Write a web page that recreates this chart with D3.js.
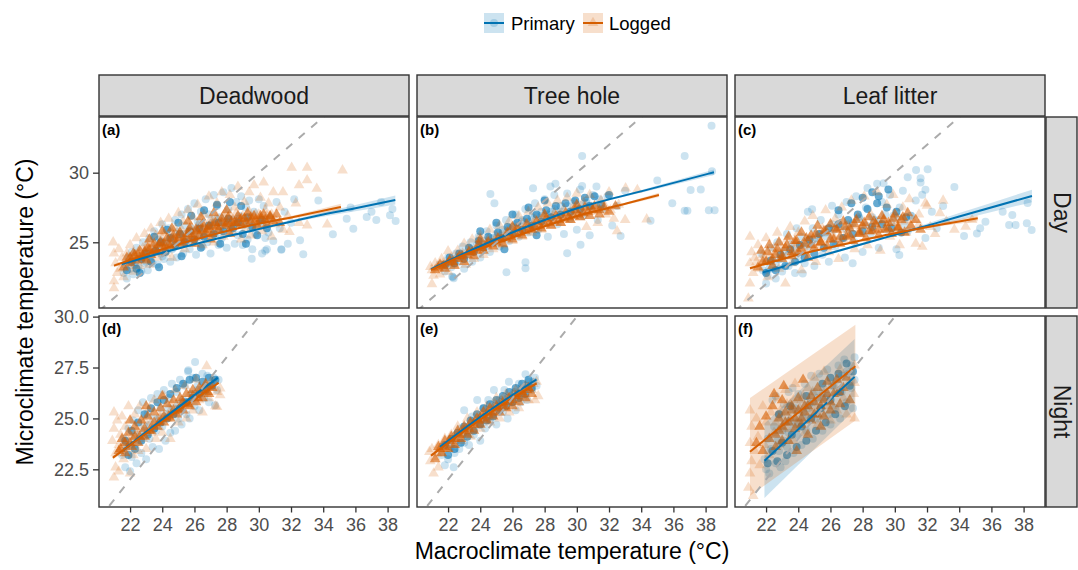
<!DOCTYPE html>
<html><head><meta charset="utf-8">
<script src="https://cdn.jsdelivr.net/npm/d3@7"></script>
<style>body{margin:0;background:#fff}svg text{font-family:"Liberation Sans",Arial,Helvetica,sans-serif}</style>
</head><body><svg id="chart" width="1078" height="570"></svg>
<script>
// ---------------- data ----------------
const habitats = ["Deadwood", "Tree hole", "Leaf litter"];
const periods = ["Day", "Night"];
const panelTags = ["(a)", "(b)", "(c)", "(d)", "(e)", "(f)"];
const seriesNames = ["Primary", "Logged"];
const xTicks = [22, 24, 26, 28, 30, 32, 34, 36, 38];
const yTicksDay = [25, 30];
const yTicksNight = [22.5, 25.0, 27.5, 30.0];
const xDomain = [20.07, 39.33];
const yDomainDay = [20.28, 34.0];
const yDomainNight = [20.65, 30.03];

// scatter points: flat lists of (macro, micro) temperature pairs.
// "...Core" lists hold points from the heavily over-plotted centre of each cloud.
const dayDeadPrimary = [21.6,22.8,21.7,23.4,21.8,22.4,21.9,23.9,22.0,23.1,22.1,24.3,22.2,22.7,22.3,23.6,22.4,24.6,22.5,23.2,
22.6,24.0,22.7,22.9,22.8,25.0,22.9,23.5,23.0,24.4,23.1,23.0,23.2,25.3,23.3,24.0,23.4,23.5,23.5,25.8,
23.6,24.7,23.7,23.4,23.8,25.2,23.9,24.2,24.0,26.3,24.1,23.8,24.2,25.0,24.3,24.4,24.4,26.0,24.5,23.6,
24.6,25.4,24.7,24.6,24.8,26.6,24.9,23.9,25.0,25.8,25.1,24.8,25.2,27.0,25.3,24.2,25.4,26.2,25.5,25.2,
25.6,27.4,25.7,24.5,25.8,26.0,25.9,25.0,26.0,27.8,26.1,24.1,26.2,26.5,26.3,25.4,26.4,27.2,26.5,24.7,
26.6,26.0,26.7,28.1,26.8,25.0,26.9,27.0,27.0,24.2,27.1,26.4,27.2,28.4,27.3,25.6,27.4,27.6,27.5,24.8,
27.6,26.8,27.7,25.3,27.8,28.6,27.9,26.2,28.0,24.6,28.1,27.4,28.2,25.8,28.3,28.9,28.4,26.6,28.5,24.9,
28.6,27.9,28.7,25.5,28.8,26.9,28.9,28.3,29.0,24.8,29.1,26.3,29.2,27.5,29.3,25.2,29.4,28.0,29.5,26.0,
29.6,24.5,29.7,27.2,29.8,25.6,30.0,28.1,30.1,26.5,30.2,24.2,30.3,27.6,30.4,25.3,30.5,24.5,
30.7,26.8,30.9,25.1,31.1,27.9,31.3,26.0,31.4,24.5,31.6,27.2,31.8,24.9,32.0,26.4,32.2,28.1,
32.56,25.14,32.76,24.14,33.7,28.0,34.6,25.57,35.46,26.7,35.87,25.98,35.7,27.5,36.7,26.82,37.0,27.2,37.3,26.6,37.6,27.9,38.15,26.94,38.5,26.53,38.3,27.4,29.56,23.82,30.4,24.4,31.4,24.47,
22.3,23.4,22.7,23.9,23.0,23.6,23.4,24.2,23.8,24.6,24.0,24.0,24.3,24.9,24.6,24.5,25.0,25.1,25.3,25.6,25.6,25.2,26.0,25.8,26.3,26.3,26.6,25.5,27.0,26.2,27.3,26.7,27.6,25.9,28.0,26.5,28.3,26.1,28.7,26.7,29.0,26.2,29.4,26.5,29.8,26.0,30.2,26.3,30.6,25.7];
const dayDeadPrimaryCore = [21.8,23.0,22.1,23.6,22.4,23.1,22.7,23.8,23.0,24.2,23.3,23.6,23.6,24.4,23.9,25.0,24.2,24.3,24.5,25.3,24.8,24.8,25.1,25.6,25.4,25.0,25.7,25.8,26.0,25.2,
26.3,26.0,26.6,25.4,26.9,26.2,27.2,25.6,27.5,26.4,27.8,25.8,28.1,26.7,28.4,26.0,28.7,26.4,29.0,25.6,29.3,26.8,29.6,26.1,29.9,25.5,30.2,26.6,30.5,26.0,
23.5,25.4,24.3,25.9,25.0,26.4,25.8,26.9,26.6,27.3,27.4,27.7,28.2,27.9,28.9,27.6,22.6,22.8,23.8,23.2,25.2,24.0,26.4,24.6,27.6,24.9,29.2,24.9];
const dayDeadLogged = [20.95,25.0,21.0,24.2,21.0,22.2,21.0,21.7,21.1,23.5,21.2,22.8,21.3,24.5,21.4,23.1,21.5,23.9,21.6,22.5,21.8,24.2,21.9,23.3,
22.0,24.8,22.1,23.7,22.2,22.9,22.4,25.3,22.5,24.1,22.6,23.3,22.8,24.6,22.9,25.6,23.0,23.8,
23.1,24.9,23.2,23.4,23.3,26.0,23.5,24.4,23.6,25.5,23.7,23.9,23.9,26.4,24.0,24.9,
24.1,25.7,24.2,24.2,24.4,26.7,24.5,25.2,24.6,23.9,24.8,26.0,24.9,24.7,25.0,27.1,
25.1,25.5,25.3,26.5,25.4,24.5,25.6,27.3,25.7,25.8,25.8,24.9,25.9,26.8,
26.1,25.3,26.2,27.7,26.4,26.2,26.5,24.8,26.6,27.0,26.8,25.7,26.9,28.3,
27.1,26.5,27.2,25.0,27.4,27.8,27.5,26.0,27.7,28.6,27.8,25.4,27.9,27.1,
28.1,26.3,28.2,28.4,28.4,25.7,28.5,27.5,28.7,29.0,28.8,26.7,28.9,25.2,
29.1,27.9,29.2,26.0,29.4,28.6,29.5,25.5,29.7,29.1,29.8,27.0,29.9,26.3,
30.1,28.2,30.2,25.8,30.3,29.3,30.5,26.9,30.6,27.8,30.8,25.4,30.9,28.6,
31.1,26.5,31.3,27.5,31.5,25.9,31.5,28.6,31.8,26.9,31.9,25.74,32.04,30.36,
32.3,27.8,32.5,29.1,32.5,26.4,33.0,30.36,33.0,29.46,33.0,26.22,33.6,28.85,34.25,26.29,35.2,30.17,
22.2,23.9,22.5,24.3,22.8,23.9,23.0,24.5,23.2,24.2,23.4,24.8,23.6,24.5,23.8,24.9,24.0,25.3,24.2,24.8,24.4,25.2,24.6,25.6,24.8,25.0,25.0,25.5,25.2,25.9,25.4,25.3,25.6,25.8,25.8,26.1,26.0,25.6,26.2,26.2,26.4,25.8,26.6,26.4,26.8,26.0,27.0,26.6,27.2,26.2,27.4,26.8,27.6,26.4,27.8,26.9,28.0,26.5,28.2,27.0,28.4,26.6,28.6,27.1,28.8,26.4,29.0,26.9,29.2,26.6,29.4,27.2,29.6,26.7,29.8,26.4,30.0,27.0,30.2,26.6,30.4,27.3,30.6,26.5,30.8,27.0,31.0,26.3];
const dayDeadLoggedCore = [21.6,23.2,21.8,23.9,22.0,23.5,22.2,24.2,22.4,23.7,22.6,24.4,22.8,24.0,23.0,23.7,23.1,24.6,23.3,24.1,23.5,24.9,23.7,24.3,23.9,25.0,24.1,24.5,24.3,25.3,24.5,24.7,24.7,25.5,24.9,25.0,
25.1,25.7,25.3,24.9,25.5,25.4,25.7,26.0,25.9,25.3,26.1,25.9,26.3,25.5,26.5,26.3,26.7,25.7,26.9,26.1,27.1,25.6,27.3,26.4,27.5,25.9,27.7,26.7,27.9,26.2,28.1,26.8,28.3,26.1,28.5,26.4,
28.7,26.9,28.9,26.3,29.1,26.7,29.3,27.1,29.5,26.5,29.7,26.9,29.9,26.2,30.1,26.7,30.3,27.0,30.5,26.3,30.7,26.8,30.9,26.5,31.1,27.0,31.3,26.4,
23.2,25.2,24.0,25.8,24.6,26.0,25.6,26.5,26.4,26.8,27.2,27.1,28.0,27.3,26.0,24.9,27.0,25.2,28.2,25.6,
22.0,23.9,22.3,24.1,22.6,23.9,22.9,24.3,23.2,24.5,23.5,24.4,23.8,24.8,24.1,24.9,24.4,24.8,24.7,25.2,25.0,25.3,25.3,25.2,25.6,25.6,25.9,25.5,26.2,25.8,26.5,25.9,26.8,25.9,
27.1,26.2,27.4,26.1,27.7,26.4,28.0,26.3,28.3,26.5,28.6,26.4,28.9,26.7,29.2,26.4,29.5,26.8,29.8,26.6,30.1,26.9,30.4,26.6,30.7,26.9];

const dayTreePrimary = [21.5,23.4,21.8,22.9,22.0,23.9,22.2,23.2,22.3,22.5,22.5,24.2,22.7,23.6,22.9,24.7,23.0,23.1,23.2,24.1,23.4,25.0,23.5,23.6,23.7,24.5,23.9,25.4,24.0,23.9,24.2,24.9,24.4,25.8,24.6,24.3,
24.63,28.47,24.88,27.8,24.8,25.3,25.0,26.2,25.2,24.7,25.4,25.7,25.6,26.6,25.63,22.85,25.8,25.1,26.0,26.1,26.2,27.0,26.4,25.4,26.6,26.5,26.81,23.57,26.81,23.14,26.8,27.4,27.0,25.7,27.2,26.8,
27.28,28.88,27.4,27.8,27.6,25.9,27.8,26.9,28.0,28.1,28.2,25.4,28.36,29.0,28.4,27.2,28.6,28.4,28.67,29.2,28.8,26.3,29.0,27.6,29.2,25.6,29.4,24.22,29.4,28.5,29.6,26.7,29.8,27.9,30.0,25.9,
30.23,24.82,30.2,28.8,30.33,31.2,30.33,29.05,30.4,26.9,30.6,27.8,30.8,25.5,31.0,28.4,31.22,29.0,31.3,26.6,31.6,27.4,31.9,28.3,32.2,26.2,32.72,25.45,32.5,27.6,33.0,28.7,
34.58,26.55,35.0,29.43,35.93,27.8,36.7,31.2,36.7,27.27,36.87,27.27,37.07,28.76,37.7,28.8,38.2,27.3,38.56,27.3,38.37,33.38,38.4,30.1,22.35,22.42,22.25,22.54,
22.0,23.5,22.6,23.9,23.0,24.2,23.4,24.5,23.8,24.8,24.2,25.1,24.6,25.3,25.0,25.6,25.4,25.9,25.8,26.0,26.2,26.3,26.6,26.6,27.0,26.5,27.4,26.9,27.8,27.2,28.2,27.0,28.6,27.4,29.0,27.2,29.4,27.6,29.8,27.3,30.2,27.7,30.6,28.0,31.0,27.6,31.4,28.1];
const dayTreePrimaryCore = [21.8,23.4,22.1,23.9,22.4,23.5,22.7,24.2,23.0,23.8,23.3,24.6,23.6,24.3,23.9,25.1,24.2,24.6,24.5,25.4,24.8,25.0,25.1,25.7,25.4,25.3,25.7,26.1,26.0,25.6,
26.3,26.4,26.6,25.9,26.9,26.7,27.2,26.2,27.5,27.0,27.8,26.5,28.1,27.3,28.4,26.8,28.7,27.6,29.0,27.0,29.3,27.8,29.6,27.2,29.9,28.0,30.2,27.4,30.5,28.2,30.8,27.6,31.1,28.3,31.5,27.7,32.0,28.4,
24.0,25.8,25.0,26.4,26.0,27.0,27.0,27.5,28.0,28.0,25.5,24.5,27.5,25.5];
const dayTreeLogged = [20.9,23.24,21.0,22.0,21.0,23.0,21.1,22.6,21.2,23.5,21.4,23.1,21.5,22.7,21.6,23.8,21.8,23.3,22.0,24.36,22.0,22.9,22.2,23.9,22.4,23.4,22.6,24.4,22.8,23.8,23.0,24.9,23.1,23.4,23.3,24.3,
23.5,25.2,23.6,23.8,23.8,24.7,24.0,25.5,24.2,24.1,24.4,25.0,24.6,25.9,24.8,24.5,25.0,25.4,25.2,26.2,25.4,24.8,25.6,25.7,25.8,26.5,26.0,25.1,26.2,26.0,26.4,26.9,26.6,25.4,26.8,26.3,
27.0,27.2,27.2,25.7,27.4,26.6,27.6,27.5,27.8,25.9,28.0,26.9,28.2,27.8,28.4,26.2,28.6,27.1,28.8,28.0,29.0,26.4,29.2,27.4,29.4,28.2,29.6,26.6,29.8,27.6,30.0,28.5,30.2,26.8,30.4,27.9,
30.6,26.1,30.8,28.4,31.0,27.2,31.3,26.4,31.5,28.0,31.8,27.0,32.0,28.6,32.3,26.7,32.6,27.7,33.0,26.6,33.03,28.88,33.76,28.76,34.34,26.65,32.5,25.8,
21.3,23.2,21.7,23.5,22.1,23.6,22.5,23.9,22.9,24.2,23.3,24.6,23.7,24.5,24.1,24.9,24.5,25.2,24.9,25.1,25.3,25.5,25.7,25.6,26.1,25.7,26.5,26.1,26.9,26.0,27.3,26.3,27.7,26.6,28.1,26.5,28.5,26.8,28.9,27.0,29.3,26.9,29.7,27.2,30.1,27.3,30.5,27.1,30.9,27.5,31.3,27.4,31.7,27.7,32.1,27.3];
const dayTreeLoggedCore = [21.2,23.0,21.5,23.4,21.8,23.1,22.1,23.7,22.4,23.3,22.7,24.0,23.0,23.6,23.3,24.3,23.6,24.0,23.9,24.8,24.2,24.4,24.5,25.0,24.8,24.7,25.1,25.3,25.4,24.9,25.7,25.7,26.0,25.2,
26.3,26.0,26.6,25.5,26.9,26.3,27.2,25.9,27.5,26.5,27.8,26.0,28.1,26.7,28.4,26.2,28.7,26.9,29.0,26.4,29.3,27.1,29.6,26.6,29.9,27.3,30.2,26.8,30.5,27.5,30.8,26.9,31.1,27.6,31.4,27.0,31.7,27.5,32.0,27.2,32.4,27.6,
24.0,25.2,26.0,26.1,28.0,27.0,30.0,27.7,
21.4,23.2,21.7,23.3,22.0,23.5,22.3,23.6,22.6,23.8,22.9,24.0,23.2,24.1,23.5,24.3,23.8,24.4,24.1,24.6,24.4,24.8,24.7,24.9,25.0,25.0,25.3,25.2,25.6,25.3,25.9,25.4,26.2,25.6,
26.5,25.7,26.8,25.8,27.1,26.0,27.4,26.1,27.7,26.2,28.0,26.3,28.3,26.4,28.6,26.5,28.9,26.6,29.2,26.7,29.5,26.8,29.8,26.9,30.1,27.0,30.4,27.1,30.7,27.2,31.0,27.3,31.4,27.3];

const dayLeafPrimary = [21.7,24.2,21.8,23.0,22.0,22.04,22.0,23.6,22.1,22.6,22.3,24.6,22.4,23.2,22.6,22.4,22.7,25.0,22.8,23.8,23.0,22.9,23.1,24.4,23.3,25.6,23.4,23.3,23.6,24.9,23.8,22.8,23.9,26.0,24.0,24.0,
24.2,25.4,24.28,22.76,24.4,23.5,24.6,27.2,24.6,24.7,24.86,27.37,24.9,26.0,25.0,23.3,25.2,25.3,25.4,26.6,25.5,24.1,25.7,25.7,25.9,23.6,26.1,27.63,26.1,26.3,26.3,24.7,26.5,27.0,26.7,25.3,
26.9,23.9,27.0,27.9,27.2,26.1,27.38,23.49,27.5,25.0,27.6,28.3,27.8,26.8,28.0,24.3,28.2,27.5,28.3,28.9,28.5,25.6,28.7,26.6,28.9,29.2,29.0,24.6,29.2,27.9,29.3,29.25,29.5,25.9,29.7,28.4,
29.9,26.9,30.1,24.5,30.28,24.09,30.3,27.5,30.5,28.7,30.8,29.67,30.8,25.8,31.0,26.9,31.32,30.19,31.3,28.0,31.6,29.6,31.6,29.3,31.7,28.42,31.9,28.78,31.9,25.3,32.04,30.24,32.3,27.2,32.6,26.0,
33.0,27.6,33.7,28.97,34.3,25.45,35.1,25.64,35.3,26.0,35.63,26.48,36.7,27.2,37.1,26.24,37.3,26.96,37.5,26.24,38.2,26.36,38.25,27.82,38.5,25.88,
22.2,23.1,22.6,23.5,23.0,23.8,23.4,24.1,23.8,24.4,24.2,24.8,24.6,24.9,25.0,25.2,25.4,25.6,25.8,25.4,26.2,25.9,26.6,26.1,27.0,25.9,27.4,26.4,27.8,26.7,28.2,26.2,28.6,26.8,29.0,26.6,29.4,27.0,29.8,26.4,30.2,26.8,30.6,26.3,31.0,26.9];
const dayLeafPrimaryCore = [22.0,22.8,22.3,23.7,22.6,23.0,22.9,24.1,23.2,23.3,23.5,24.5,23.8,23.6,24.1,24.8,24.4,23.9,24.7,25.2,25.0,24.2,25.3,25.6,25.6,24.6,25.9,26.0,26.2,24.9,
26.5,26.3,26.8,25.3,27.1,26.6,27.4,25.6,27.7,27.0,28.0,25.8,28.3,27.4,28.6,26.1,28.9,27.8,29.2,26.3,29.5,27.5,29.8,26.0,30.1,27.2,30.4,25.7,30.7,26.8,
28.0,28.2,28.6,28.6,29.0,28.3,29.6,28.8,27.3,27.8,26.5,27.3];
const dayLeafLogged = [20.9,20.97,21.0,25.4,21.0,22.04,21.0,23.5,21.1,24.3,21.2,22.8,21.3,23.9,21.5,24.8,21.6,23.1,21.8,24.1,22.0,25.3,22.1,22.5,22.3,23.6,22.5,24.6,22.7,25.7,22.8,23.1,23.0,24.1,23.2,22.04,
23.3,25.2,23.5,26.1,23.6,23.5,23.8,24.6,24.0,25.7,24.2,23.0,24.4,26.5,24.5,24.3,24.7,25.3,24.9,26.9,25.1,23.6,25.3,24.8,25.5,26.0,25.7,27.3,25.9,24.3,26.1,25.5,26.3,26.7,26.5,23.8,
26.7,27.5,26.9,25.1,27.1,26.2,27.3,28.0,27.5,24.5,27.7,26.8,27.9,25.6,28.1,28.3,28.3,24.8,28.5,27.0,28.7,25.9,28.9,28.6,29.1,24.4,29.3,26.6,29.5,27.7,29.7,25.4,29.9,28.4,30.1,26.4,
30.3,24.8,30.5,27.5,30.7,25.7,30.9,28.1,31.1,26.6,31.3,24.9,31.5,27.0,31.7,24.69,31.9,27.8,32.0,27.64,32.2,26.1,32.5,25.6,32.8,27.1,33.2,26.5,33.7,25.9,34.4,26.12,34.8,26.6,33.0,28.0,
21.4,23.6,21.8,23.8,22.2,24.0,22.6,24.3,23.0,24.6,23.4,24.3,23.8,24.9,24.2,24.6,24.6,25.1,25.0,25.5,25.4,25.2,25.8,25.7,26.2,25.4,26.6,25.9,27.0,25.6,27.4,26.2,27.8,25.9,28.2,26.3,28.6,26.0,29.0,26.5,29.4,26.1,29.8,26.4,30.2,26.0,30.6,26.5,31.0,26.1,31.5,26.3];
const dayLeafLoggedCore = [21.5,23.2,21.7,24.4,22.0,23.6,22.2,24.8,22.4,23.3,22.6,24.1,22.8,25.0,23.0,23.8,23.2,24.6,23.4,25.4,23.6,24.0,23.8,25.1,24.0,24.3,24.2,25.7,24.4,24.9,24.6,23.9,24.8,25.5,
25.0,24.6,25.2,26.2,25.4,25.0,25.6,25.8,25.8,24.7,26.0,26.3,26.2,25.2,26.4,25.9,26.6,24.9,26.8,26.5,27.0,25.4,27.2,26.0,27.4,25.1,27.6,26.6,27.8,25.6,28.0,26.2,28.2,25.3,28.4,26.8,
28.6,25.8,28.8,26.3,29.0,25.5,29.2,26.9,29.4,25.9,29.6,26.4,29.8,25.6,30.0,27.0,30.2,26.0,30.4,26.6,30.6,25.7,30.8,27.1,31.0,26.2,31.3,26.6,31.6,25.9,
21.8,23.6,22.1,24.3,22.4,23.8,22.7,24.5,23.0,24.0,23.3,24.8,23.6,24.3,23.9,25.1,24.2,24.5,24.5,25.3,24.8,24.8,25.1,25.6,25.4,25.0,25.7,25.8,26.0,25.2,
26.3,26.0,26.6,25.4,26.9,26.1,27.2,25.5,27.5,26.3,27.8,25.7,28.1,26.4,28.4,25.8,28.7,26.5,29.0,25.9,29.3,26.6,29.6,26.0,29.9,26.7,30.2,26.1,30.5,26.8];

const nightDeadPrimary = [21.5,23.2,21.6,24.0,21.7,22.6,21.8,23.6,21.9,24.5,22.0,22.4,22.1,23.1,22.2,24.9,22.3,23.7,22.4,22.8,22.5,25.4,22.6,24.2,22.7,23.3,22.8,25.8,22.9,24.6,23.0,23.0,
23.1,25.2,23.2,24.0,23.3,26.0,23.4,23.6,23.5,25.0,23.6,24.4,23.7,26.2,23.8,23.5,23.9,25.5,24.0,24.6,24.1,26.4,24.2,23.9,24.3,25.2,24.4,26.0,24.5,24.3,24.6,26.7,24.7,25.5,24.8,24.4,
24.9,26.3,25.0,25.0,25.1,26.9,25.2,24.7,25.3,25.8,25.4,26.6,25.5,25.2,25.6,27.3,25.62,27.37,25.7,25.0,25.8,26.2,25.9,27.0,26.0,25.6,26.04,27.77,26.2,26.6,26.3,25.4,26.5,27.2,26.6,26.0,
26.8,27.1,26.9,25.8,27.0,26.6,27.2,27.0,27.28,25.65,27.4,26.4,27.5,26.9,
22.0,23.7,22.3,24.1,22.6,23.9,22.9,24.4,23.2,24.7,23.5,24.5,23.8,25.0,24.1,25.1,24.4,25.5,24.7,25.3,25.0,25.7,25.3,25.9,25.6,25.8,25.9,26.2,26.2,26.4,26.5,26.3,26.8,26.6];
const nightDeadPrimaryCore = [21.7,23.9,21.9,23.2,22.1,24.4,22.3,23.5,22.5,24.8,22.7,23.9,22.9,25.2,23.1,24.2,23.3,25.5,23.5,24.5,23.7,25.8,23.9,24.8,24.1,25.9,24.3,25.0,24.5,26.2,
24.7,25.2,24.9,26.5,25.1,25.5,25.3,26.7,25.5,25.8,25.7,26.9,25.9,26.0,26.1,27.0,26.3,26.2,26.5,26.8,26.7,26.4,26.9,27.0,27.1,26.6,27.3,26.9];
const nightDeadLogged = [20.9,23.9,21.0,25.3,21.0,22.1,21.0,24.5,21.1,22.6,21.1,23.3,21.2,24.9,21.3,23.7,21.3,22.4,21.4,24.2,21.5,25.1,21.6,23.0,21.7,24.6,21.8,23.5,21.9,25.6,22.0,22.3,
22.1,24.1,22.2,23.2,22.3,25.2,22.4,24.4,22.5,23.4,22.6,25.6,22.8,24.0,22.9,24.9,23.0,23.5,23.2,25.5,23.3,24.3,23.5,25.9,23.6,24.0,23.8,25.1,24.0,24.3,24.1,26.1,24.3,25.0,24.5,24.0,
24.6,25.7,24.8,26.4,25.0,24.8,25.2,25.9,25.4,26.6,25.5,25.0,25.7,26.2,25.9,25.4,26.1,26.9,26.3,25.9,26.5,25.3,26.7,26.6,26.76,27.57,26.9,26.0,27.1,26.9,27.3,25.6,27.4,26.3,27.6,26.14,27.6,26.47,27.4,25.57,
21.5,23.6,21.8,24.0,22.1,23.8,22.4,24.2,22.7,24.5,23.0,24.3,23.3,24.8,23.6,24.6,23.9,25.1,24.2,25.0,24.5,25.4,24.8,25.3,25.1,25.7,25.4,25.6,25.7,25.9,26.0,26.0,26.3,26.3,26.6,26.2,26.9,26.5];
const nightDeadLoggedCore = [21.3,23.4,21.5,24.0,21.7,23.3,21.9,24.3,22.1,23.6,22.3,24.6,22.5,23.8,22.7,24.9,22.9,24.1,23.1,25.1,23.3,24.4,23.5,25.3,23.7,24.6,23.9,25.5,24.1,24.8,24.3,25.7,
24.5,25.0,24.7,25.9,24.9,25.2,25.1,26.0,25.3,25.4,25.5,26.2,25.7,25.6,25.9,26.4,26.1,25.8,26.3,26.5,26.5,26.0,26.7,26.7,26.9,26.2,27.1,26.5,22.0,24.9,23.0,25.6,24.0,26.1,
21.4,23.5,21.7,23.8,22.0,23.8,22.3,24.1,22.6,24.1,22.9,24.5,23.2,24.4,23.5,24.8,23.8,24.8,24.1,25.1,24.4,25.1,24.7,25.4,25.0,25.4,25.3,25.8,25.6,25.7,25.9,26.1,26.2,26.0,26.5,26.4,26.8,26.3];

const nightTreePrimary = [21.6,23.2,21.8,22.7,22.0,23.0,22.2,23.6,22.35,22.6,22.4,23.3,22.5,24.2,22.7,23.5,22.8,24.5,23.0,23.8,23.0,25.4,23.2,24.4,23.3,23.7,23.5,25.1,23.6,24.2,23.81,25.9,23.9,24.7,24.0,23.9,
24.2,25.5,24.3,24.5,24.5,25.9,24.6,24.9,24.85,26.4,24.8,25.2,25.0,24.7,25.2,25.9,25.4,25.3,25.5,26.4,25.7,25.0,25.78,26.8,25.9,25.8,26.1,26.3,26.2,25.4,26.4,26.7,26.5,25.8,26.7,26.2,
26.81,27.17,26.9,25.9,27.0,26.8,27.2,26.4,27.4,27.0,27.5,26.6,
22.1,23.6,22.5,23.9,22.9,24.2,23.3,24.5,23.7,24.8,24.1,25.0,24.5,25.3,24.9,25.6,25.3,25.8,25.7,26.0,26.1,26.2,26.5,26.4,26.9,26.6,27.3,26.8];
const nightTreePrimaryCore = [21.8,23.7,22.0,23.2,22.2,24.0,22.4,23.5,22.6,24.3,22.8,23.8,23.0,24.6,23.2,24.1,23.4,24.9,23.6,24.4,23.8,25.2,24.0,24.7,24.2,25.5,24.4,24.9,
24.6,25.7,24.8,25.1,25.0,25.9,25.2,25.4,25.4,26.1,25.6,25.6,25.8,26.3,26.0,25.8,26.2,26.5,26.4,26.0,26.6,26.7,26.8,26.2,27.0,26.9,27.2,26.5];
const nightTreeLogged = [20.84,23.36,20.9,22.9,21.0,23.5,21.1,22.3,21.2,23.1,21.4,22.6,21.4,23.7,21.6,23.3,21.8,24.0,22.0,23.5,22.2,24.2,22.4,23.7,22.6,24.6,22.8,23.9,23.0,24.3,23.2,25.0,23.4,24.1,23.6,24.8,
23.8,25.3,24.0,24.5,24.2,25.1,24.4,25.6,24.6,24.8,24.8,25.5,25.0,26.0,25.2,25.0,25.4,25.7,25.6,26.2,25.8,25.3,26.0,25.9,26.2,26.4,26.4,25.5,26.6,26.1,26.8,26.6,27.0,25.9,27.2,26.4,27.4,25.9,27.6,26.1,27.5,26.8,
21.3,23.3,21.7,23.5,22.1,23.8,22.5,24.0,22.9,24.3,23.3,24.6,23.7,24.9,24.1,25.2,24.5,25.3,24.9,25.7,25.3,25.9,25.7,26.0,26.1,26.2,26.5,26.4,26.9,26.5,27.3,26.7];
const nightTreeLoggedCore = [21.2,23.0,21.4,23.6,21.6,23.3,21.8,23.9,22.0,23.5,22.2,24.1,22.4,23.7,22.6,24.4,22.8,24.0,23.0,24.6,23.2,24.2,23.4,24.8,23.6,24.4,23.8,25.0,24.0,24.7,24.2,25.3,
24.4,24.9,24.6,25.5,24.8,25.1,25.0,25.6,25.2,25.3,25.4,25.8,25.6,25.5,25.8,26.0,26.0,25.6,26.2,26.1,26.4,25.8,26.6,26.3,26.8,26.0,27.0,26.5,27.2,26.2,
21.5,23.5,21.8,23.6,22.1,23.9,22.4,24.0,22.7,24.2,23.0,24.4,23.3,24.5,23.6,24.7,23.9,24.9,24.2,25.0,24.5,25.2,24.8,25.3,25.1,25.5,25.4,25.6,25.7,25.8,26.0,25.9,26.3,26.1,26.6,26.2,26.9,26.4];

const nightLeafPrimary = [21.9,23.0,22.0,22.5,22.1,24.0,22.2,22.3,22.3,23.5,22.4,25.9,22.5,24.6,22.6,22.8,22.6,26.1,22.7,23.9,22.8,25.2,22.9,22.6,23.0,24.4,23.1,25.7,23.2,22.9,23.3,23.6,23.4,26.3,23.5,24.9,
23.65,26.5,23.7,23.3,23.8,25.5,23.9,24.2,24.0,26.2,24.2,23.7,24.3,25.0,24.4,26.7,24.5,24.4,24.7,25.7,24.8,27.1,24.9,24.0,25.0,26.3,25.2,25.0,25.3,27.2,25.5,24.4,25.6,26.0,25.8,27.4,
25.9,25.2,26.0,24.7,26.2,26.6,26.3,25.5,26.5,27.6,26.6,25.0,26.7,26.3,26.86,27.89,27.0,25.8,27.1,27.2,27.3,26.5,27.4,25.5,27.5,28.0,27.5,26.9,
22.8,23.4,23.1,23.9,23.4,24.3,23.7,24.6,24.0,24.8,24.3,25.3,24.6,25.5,24.9,25.8,25.2,26.0,25.5,26.3,25.8,26.1,26.1,26.6,26.4,26.9,26.7,27.1,27.0,27.3,27.3,27.6];
const nightLeafPrimaryCore = [22.1,22.8,22.4,23.4,22.7,22.9,23.0,23.8,23.3,23.2,23.6,24.2,23.9,23.6,24.2,24.6,24.5,23.9,24.8,25.0,25.1,24.4,25.4,25.5,25.7,24.8,26.0,25.9,26.3,25.2,
26.6,26.3,26.9,25.6,27.2,26.6,27.4,27.3,26.5,27.2,25.5,26.7,24.5,26.1,23.5,25.6,22.8,25.2,26.0,27.0,27.0,27.7];
const nightLeafLogged = [20.9,21.6,21.0,25.4,21.0,22.3,21.0,23.8,21.1,24.6,21.1,22.9,21.2,21.2,21.3,23.4,21.4,25.0,21.5,24.1,21.6,22.7,21.8,25.6,21.9,23.7,22.0,24.8,22.2,23.2,22.3,25.3,22.5,24.3,22.7,26.0,
22.8,23.7,23.0,25.1,23.2,26.4,23.3,24.5,23.5,25.7,23.7,23.9,23.8,26.7,24.0,24.9,24.2,25.9,24.4,24.3,24.6,26.5,24.8,25.3,25.0,27.0,25.2,24.7,25.4,26.0,25.6,27.3,25.8,25.6,26.0,24.9,
26.2,26.6,26.4,25.4,26.6,27.4,26.8,26.0,27.0,25.2,27.2,26.8,27.45,26.2,27.5,26.75,27.5,25.0,27.5,27.6,
22.6,24.8,22.9,25.4,23.1,24.5,23.3,25.7,23.5,25.0,23.7,25.9,23.9,24.7,24.1,25.5,24.3,26.1,24.5,25.0,24.7,25.8,24.9,26.3,25.1,25.5,25.3,26.0,25.5,25.2,25.7,26.4,25.9,25.9,26.1,25.6,26.3,26.2];
const nightLeafLoggedCore = [21.4,23.8,21.6,24.6,21.8,23.4,22.0,25.1,22.2,24.0,22.4,25.6,22.6,23.6,22.8,24.4,23.0,25.9,23.2,24.8,23.4,23.9,23.6,25.4,23.8,24.5,24.0,26.0,24.2,25.0,24.4,25.6,
24.6,24.2,24.8,26.1,25.0,25.2,25.2,26.5,25.4,24.6,25.6,25.9,25.8,26.8,26.0,25.4,26.2,26.2,26.4,26.9,26.6,25.7,26.8,26.5,27.0,27.0,27.2,25.9,23.1,26.6,24.3,26.9,22.5,26.2,23.9,23.4,
22.8,25.0,23.0,24.6,23.2,25.3,23.4,24.8,23.6,25.6,23.8,25.0,24.0,25.4,24.2,24.7,24.4,25.3,24.6,25.6,24.8,24.9,25.0,25.8,25.2,25.2,25.4,25.6,25.6,25.1,25.8,26.2,26.0,25.8,22.6,24.2,23.0,23.9,26.5,26.3];

// fitted relationships: rows of [macro, fitted micro, lower CI, upper CI]
const fitDayDeadPrimary = [[21.48,23.44,23.30,23.58],[24,24.25,24.17,24.33],[27,25.15,25.09,25.21],[29.45,25.8,25.73,25.87],[33,26.75,26.63,26.87],[36,27.45,27.23,27.67],[38.48,28.04,27.72,28.36]];
const fitDayDeadLogged = [[21.0,23.32,23.20,23.44],[24,24.5,24.44,24.56],[27,25.5,25.45,25.55],[29.45,26.2,26.14,26.26],[32.15,26.82,26.72,26.92],[35.1,27.54,27.32,27.76]];
const fitDayTreePrimary = [[20.94,23.06,22.94,23.18],[23,24.2,24.14,24.26],[25.87,25.65,25.6,25.7],[28,26.6,26.55,26.65],[30.02,27.44,27.38,27.5],[34.17,28.71,28.61,28.81],[38.52,30.03,29.83,30.23]];
const fitDayTreeLogged = [[20.94,23.01,22.93,23.09],[23,24.1,24.06,24.14],[25.87,25.29,25.25,25.33],[28,26.15,26.11,26.19],[30.02,26.89,26.84,26.94],[33.13,27.8,27.72,27.88],[35.1,28.4,28.25,28.55]];
const fitDayLeafPrimary = [[21.8,22.84,22.64,23.04],[25,23.89,23.79,23.99],[28,24.88,24.8,24.96],[31,25.86,25.74,25.98],[34,26.85,26.6,27.1],[38.52,28.33,27.88,28.78]];
const fitDayLeafLogged = [[21.0,23.13,23.01,23.25],[24,24.1,24.04,24.16],[27,24.9,24.85,24.95],[30,25.65,25.58,25.72],[33,26.3,26.18,26.42],[35.15,26.72,26.52,26.92]];
const fitNightDeadPrimary = [[21.58,23.45,23.33,23.57],[24.5,25.25,25.2,25.3],[27.45,27.0,26.9,27.1]];
const fitNightDeadLogged = [[20.93,23.07,22.97,23.17],[24.2,24.95,24.91,24.99],[27.5,26.75,26.67,26.83]];
const fitNightTreePrimary = [[21.5,23.6,23.5,23.7],[24.5,25.35,25.31,25.39],[27.49,26.91,26.83,26.99]];
const fitNightTreeLogged = [[20.94,23.17,23.09,23.25],[24.2,25.05,25.02,25.08],[27.5,26.72,26.65,26.79]];
const fitNightLeafPrimary = [[21.9,22.92,21.09,24.75],[27.5,27.04,25.42,28.9]];
const fitNightLeafLogged = [[21.0,23.36,21.2,26.0],[27.55,27.56,24.9,29.6]];

// ---------------- drawing ----------------
const BLUE = "#0072B2", ORANGE = "#D55E00";
const PT_ALPHA = 0.2, CORE_ALPHA = 0.6;
const svg = d3.select("#chart");
const colLeft = [99, 417, 735], panelW = 310;
const rowTop = [117, 316], panelH = 191;
const stripTop = 75, stripH = 41;
const rightStripX = 1046, rightStripW = 31;
const FRAME = "#333333";

const pairs = a => d3.range(0, a.length, 2).map(i => [a[i], a[i + 1]]);
const x = d3.scaleLinear().domain(xDomain).range([0, panelW]);
const yScales = [d3.scaleLinear().domain(yDomainDay).range([panelH, 0]),
                 d3.scaleLinear().domain(yDomainNight).range([panelH, 0])];

const panels = [
  {r:0,c:0,prim:dayDeadPrimary,primCore:dayDeadPrimaryCore,log:dayDeadLogged,logCore:dayDeadLoggedCore,fp:fitDayDeadPrimary,fl:fitDayDeadLogged},
  {r:0,c:1,prim:dayTreePrimary,primCore:dayTreePrimaryCore,log:dayTreeLogged,logCore:dayTreeLoggedCore,fp:fitDayTreePrimary,fl:fitDayTreeLogged},
  {r:0,c:2,prim:dayLeafPrimary,primCore:dayLeafPrimaryCore,log:dayLeafLogged,logCore:dayLeafLoggedCore,fp:fitDayLeafPrimary,fl:fitDayLeafLogged},
  {r:1,c:0,prim:nightDeadPrimary,primCore:nightDeadPrimaryCore,log:nightDeadLogged,logCore:nightDeadLoggedCore,fp:fitNightDeadPrimary,fl:fitNightDeadLogged},
  {r:1,c:1,prim:nightTreePrimary,primCore:nightTreePrimaryCore,log:nightTreeLogged,logCore:nightTreeLoggedCore,fp:fitNightTreePrimary,fl:fitNightTreeLogged},
  {r:1,c:2,prim:nightLeafPrimary,primCore:nightLeafPrimaryCore,log:nightLeafLogged,logCore:nightLeafLoggedCore,fp:fitNightLeafPrimary,fl:fitNightLeafLogged}
];

const tri = d3.symbol(d3.symbolTriangle, 50)();

panels.forEach((p, i) => {
  const y = yScales[p.r];
  const g = svg.append("g").attr("transform", `translate(${colLeft[p.c]},${rowTop[p.r]})`);
  const cid = "clip" + i;
  g.append("clipPath").attr("id", cid).append("rect").attr("width", panelW).attr("height", panelH);
  const inner = g.append("g").attr("clip-path", `url(#${cid})`);
  const circles = (arr, op) => inner.append("g").selectAll("circle").data(pairs(arr)).join("circle")
    .attr("cx", d => x(d[0])).attr("cy", d => y(d[1])).attr("r", 4)
    .attr("fill", BLUE).attr("fill-opacity", op);
  const triangles = (arr, op) => inner.append("g").selectAll("path").data(pairs(arr)).join("path")
    .attr("d", tri).attr("transform", d => `translate(${x(d[0])},${y(d[1])})`)
    .attr("fill", ORANGE).attr("fill-opacity", op);
  circles(p.prim, PT_ALPHA);
  circles(p.primCore, CORE_ALPHA);
  triangles(p.log, PT_ALPHA);
  triangles(p.logCore, CORE_ALPHA);
  const area = d3.area().x(d => x(d[0])).y0(d => y(d[2])).y1(d => y(d[3])).curve(d3.curveMonotoneX);
  const line = d3.line().x(d => x(d[0])).y(d => y(d[1])).curve(d3.curveMonotoneX);
  inner.append("path").attr("d", area(p.fp)).attr("fill", BLUE).attr("fill-opacity", 0.2);
  inner.append("path").attr("d", area(p.fl)).attr("fill", ORANGE).attr("fill-opacity", 0.2);
  inner.append("path").attr("d", line(p.fp)).attr("fill", "none").attr("stroke", BLUE).attr("stroke-width", 2);
  inner.append("path").attr("d", line(p.fl)).attr("fill", "none").attr("stroke", ORANGE).attr("stroke-width", 2);
  inner.append("line")
    .attr("x1", x(xDomain[0])).attr("y1", y(xDomain[0]))
    .attr("x2", x(xDomain[1])).attr("y2", y(xDomain[1]))
    .attr("stroke", "#ABABAB").attr("stroke-width", 2).attr("stroke-dasharray", "8,8.5");
  g.append("rect").attr("width", panelW).attr("height", panelH)
    .attr("fill", "none").attr("stroke", FRAME).attr("stroke-width", 1.4);
  g.append("text").attr("x", 3).attr("y", 18).attr("font-size", 15).attr("font-weight", "bold")
    .attr("fill", "#000").text(panelTags[i]);

  if (p.r === 1) {
    const ax = g.append("g").attr("transform", `translate(0,${panelH})`)
      .call(d3.axisBottom(x).tickValues(xTicks).tickSize(5.5).tickPadding(6).tickFormat(d3.format("d")));
    ax.select(".domain").remove();
    ax.selectAll(".tick line").attr("stroke", FRAME).attr("stroke-width", 1.3);
    ax.selectAll(".tick text").attr("font-size", 18).attr("fill", "#4D4D4D")
      .style("font-family", '"Liberation Sans",Arial,sans-serif');
  }
  if (p.c === 0) {
    const ticks = p.r === 0 ? yTicksDay : yTicksNight;
    const fmt = p.r === 0 ? d3.format("d") : d3.format(".1f");
    const ay = g.append("g").call(d3.axisLeft(y).tickValues(ticks).tickSize(6).tickPadding(4).tickFormat(fmt));
    ay.select(".domain").remove();
    ay.selectAll(".tick line").attr("stroke", FRAME).attr("stroke-width", 1.3);
    ay.selectAll(".tick text").attr("font-size", 18).attr("fill", "#4D4D4D")
      .style("font-family", '"Liberation Sans",Arial,sans-serif');
  }
});

// top strips
habitats.forEach((h, c) => {
  svg.append("rect").attr("x", colLeft[c]).attr("y", stripTop).attr("width", panelW).attr("height", stripH)
    .attr("fill", "#D9D9D9").attr("stroke", FRAME).attr("stroke-width", 1.4);
  svg.append("text").attr("x", colLeft[c] + panelW / 2).attr("y", stripTop + stripH / 2)
    .attr("text-anchor", "middle").attr("dominant-baseline", "central")
    .attr("font-size", 23).attr("fill", "#1A1A1A").text(h);
});
// right strips
periods.forEach((t, r) => {
  svg.append("rect").attr("x", rightStripX).attr("y", rowTop[r]).attr("width", rightStripW).attr("height", panelH)
    .attr("fill", "#D9D9D9").attr("stroke", FRAME).attr("stroke-width", 1.4);
  const cx = rightStripX + rightStripW / 2, cy = rowTop[r] + panelH / 2;
  svg.append("text").attr("transform", `translate(${cx},${cy}) rotate(90)`)
    .attr("text-anchor", "middle").attr("dominant-baseline", "central")
    .attr("font-size", 23).attr("fill", "#1A1A1A").text(t);
});

// axis titles
svg.append("text").attr("x", (colLeft[0] + colLeft[2] + panelW) / 2).attr("y", 559)
  .attr("text-anchor", "middle").attr("font-size", 23).attr("fill", "#000")
  .text("Macroclimate temperature (°C)");
svg.append("text").attr("transform", `translate(33,${(rowTop[0] + rowTop[1] + panelH) / 2}) rotate(-90)`)
  .attr("text-anchor", "middle").attr("font-size", 23).attr("fill", "#000")
  .text("Microclimate temperature (°C)");

// legend
const legendItems = [
  {name: seriesNames[0], col: BLUE, kx: 484, tx: 511, shape: "circle"},
  {name: seriesNames[1], col: ORANGE, kx: 583, tx: 609, shape: "tri"}
];
legendItems.forEach(it => {
  const k = svg.append("g").attr("transform", `translate(${it.kx},13)`);
  k.append("rect").attr("width", 20).attr("height", 20).attr("fill", it.col).attr("fill-opacity", 0.2);
  if (it.shape === "circle") k.append("circle").attr("cx", 10).attr("cy", 10).attr("r", 4).attr("fill", it.col).attr("fill-opacity", 0.2);
  else k.append("path").attr("d", tri).attr("transform", "translate(10,10)").attr("fill", it.col).attr("fill-opacity", 0.2);
  k.append("line").attr("x1", 0).attr("x2", 20).attr("y1", 10).attr("y2", 10).attr("stroke", it.col).attr("stroke-width", 2);
  svg.append("text").attr("x", it.tx).attr("y", 29.5).attr("font-size", 18.5).attr("fill", "#000").text(it.name);
});
</script></body></html>
